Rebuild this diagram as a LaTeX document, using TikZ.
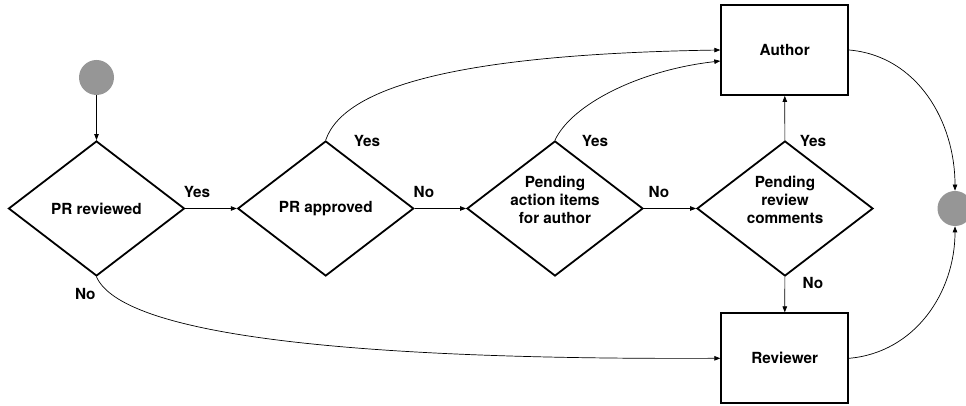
\documentclass[tikz,border=0pt]{standalone}
\usepackage{fontspec}
\setmainfont{TeX Gyre Heros}
\usetikzlibrary{shapes.geometric,arrows.meta}
\definecolor{dotgray}{RGB}{150,150,150}

\begin{document}
\begin{tikzpicture}[x=1pt,y=1pt,line width=0.7pt,
    >={Triangle[length=6pt,width=4.5pt]},
    every node/.style={font=\fontsize{15.3}{18.3}\selectfont\bfseries,
    align=center},
    decision/.style={draw,diamond,line width=1.8pt,aspect=1.3,
    inner sep=0pt,minimum width=176pt,minimum height=135pt},
    tall/.style={text depth=17pt},
    actor/.style={draw,rectangle,line width=1.8pt,minimum width=127pt,
    minimum height=90pt},
    dot/.style={circle,fill=dotgray,minimum size=35pt,inner sep=0pt}]
  \clip (0,0) rectangle (966,406);
  \node[dot] (start) at (96.5,328.5) {};
  \node[decision] (reviewed) at (96.5,197.5) {PR reviewed};
  \node[decision] (approved) at (325.7,197.5) {PR approved};
  \node[decision,tall] (pending) at (555,197.5) {Pending\\action items\\for author};
  \node[decision,tall] (comments) at (785,197.5) {Pending\\review\\comments};

  \node[actor] (author) at (784.7,356) {Author};
  \node[actor] (reviewer) at (784.7,47.7) {Reviewer};
  \node[dot] (finish) at (955,197.5) {};

  \draw[->] (start)--(reviewed);
  \draw[->] (reviewed)--(approved);
  \draw[->] (approved)--(pending);
  \draw[->] (pending)--(comments);
  \draw[->] (comments)--(author);
  \draw[->] (comments)--(reviewer);
  \draw[->] (approved.north) .. controls (345,322) and (470,352)
    .. (author.west);
  \draw[->] (pending.north) .. controls (572,302) and (640,336)
    .. ([yshift=-11pt]author.west);
  \draw[->] (reviewed.south) .. controls (122,72) and (340,46)
    .. (reviewer.west);
  \draw[->] (author.east) to[out=-5,in=90] (finish.north);
  \draw[->] (reviewer.east) to[out=5,in=-90] (finish.south);

  \node (yes1) at (197,214.3) {Yes};
  \node (no1) at (85.3,112) {No};
  \node (yes2) at (367,265) {Yes};
  \node (no2) at (424,214.3) {No};
  \node (yes3) at (595,265) {Yes};
  \node (no3) at (659,214.3) {No};
  \node (yes4) at (813,265) {Yes};
  \node (no4) at (813,123) {No};
\end{tikzpicture}
\end{document}
